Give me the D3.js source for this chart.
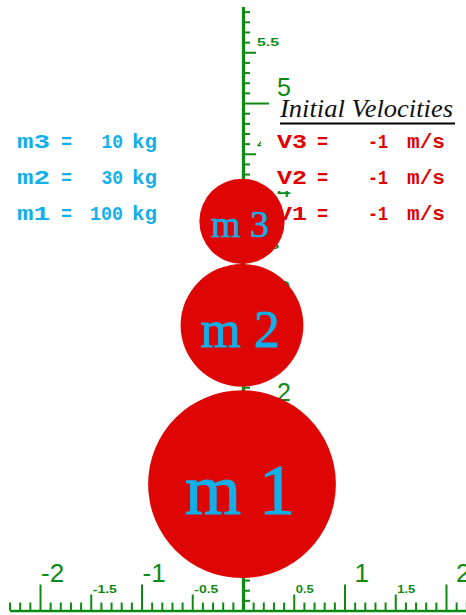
<!DOCTYPE html>
<html>
<head>
<meta charset="utf-8">
<script src="https://cdn.jsdelivr.net/npm/d3@7"></script>
<style>
  html, body { margin: 0; padding: 0; background: #ffffff; }
  svg { display: block; }
</style>
</head>
<body>
<svg id="chart" width="466" height="615"></svg>
<script>
// ---- data ----
const massNames   = ["m 1", "m 2", "m 3"];
const massKeys    = ["m1", "m2", "m3"];
const masses      = [100, 30, 10];
const velocities  = [-1, -1, -1];
const centerX     = [0, 0, 0];
const centerY     = [1.245, 2.81, 3.835];
const radii       = [0.925, 0.605, 0.42];

const xMajorTicks  = [-2, -1, 1, 2];
const xMajorLabels = ["-2", "-1", "1", "2"];
const xHalfTicks   = [-1.5, -0.5, 0.5, 1.5];
const xHalfLabels  = ["-1.5", "-0.5", "0.5", "1.5"];
const yMajorTicks  = [1, 2, 3, 4, 5];
const yMajorLabels = ["1", "2", "3", "4", "5"];
const yHalfTicks   = [0.5, 1.5, 2.5, 3.5, 4.5, 5.5];
const yHalfLabels  = ["0.5", "1.5", "2.5", "3.5", "4.5", "5.5"];

const titleText = "Initial Velocities";

// ---- scales ----
const x = d3.scaleLinear().domain([-2.3, 2.2]).range([9.55, 466.3]);
const y = d3.scaleLinear().domain([0, 5.95]).range([610.5, 6.6]);
const unit = x(1) - x(0);

const GREEN = "#0e8a14";
const RED = "#de0505";
const CYAN = "#12afe9";
const TRED = "#e00000";

const svg = d3.select("#chart");

// minor tick values
const xMinor = d3.range(-23, 23).map(i => i / 10)
  .filter(v => Math.abs(v * 2 - Math.round(v * 2)) > 1e-6);
const yMinor = d3.range(1, 60).map(i => i / 10)
  .filter(v => Math.abs(v * 2 - Math.round(v * 2)) > 1e-6);

function styleAxis(g, domainWidth) {
  g.selectAll(".tick line").attr("stroke", GREEN).attr("stroke-width", 2);
  g.selectAll(".tick text").remove();
  g.select(".domain").attr("stroke", GREEN).attr("stroke-width", domainWidth);
}

// horizontal axis
const gx = svg.append("g").attr("transform", `translate(0,${y(0)})`);
gx.append("g").call(d3.axisTop(x).tickValues(xMinor).tickSize(8).tickSizeOuter(0).tickFormat(""))
  .call(g => styleAxis(g, 2.5));
gx.append("g").call(d3.axisTop(x).tickValues(xHalfTicks).tickSize(16).tickSizeOuter(0).tickFormat(""))
  .call(g => { styleAxis(g, 0); g.select(".domain").remove(); });
gx.append("g").call(d3.axisTop(x).tickValues(xMajorTicks).tickSize(26).tickSizeOuter(0).tickFormat(""))
  .call(g => { styleAxis(g, 0); g.select(".domain").remove(); });

// vertical axis
const gy = svg.append("g").attr("transform", `translate(${x(0)},0)`);
gy.append("g").call(d3.axisRight(y).tickValues(yMinor).tickSize(7).tickSizeOuter(0).tickFormat(""))
  .call(g => styleAxis(g, 3.2));
gy.append("g").call(d3.axisRight(y).tickValues(yHalfTicks).tickSize(13).tickSizeOuter(0).tickFormat(""))
  .call(g => { styleAxis(g, 0); g.select(".domain").remove(); });
gy.append("g").call(d3.axisRight(y).tickValues(yMajorTicks).tickSize(26).tickSizeOuter(0).tickFormat(""))
  .call(g => { styleAxis(g, 0); g.select(".domain").remove(); });

// axis labels
const bigFont = "'Liberation Sans', Arial, sans-serif";
svg.append("g").selectAll("text").data(xMajorTicks).join("text")
  .attr("x", (d) => x(d) + (d < 0 ? 1 : 10))
  .attr("y", y(0) - 28.5)
  .attr("font-family", bigFont).attr("font-size", 26)
  .attr("fill", GREEN)
  .text((d, i) => xMajorLabels[i]);

svg.append("g").selectAll("text").data(xHalfTicks).join("text")
  .attr("x", d => x(d) + 2)
  .attr("y", y(0) - 17.5)
  .attr("font-family", bigFont).attr("font-size", 10).attr("font-weight", "bold")
  .attr("textLength", (d, i) => xHalfLabels[i].length * 6)
  .attr("lengthAdjust", "spacingAndGlyphs")
  .attr("fill", GREEN)
  .text((d, i) => xHalfLabels[i]);

svg.append("g").selectAll("text").data(yMajorTicks).join("text")
  .attr("x", x(0) + 34)
  .attr("y", d => y(d) - 7)
  .attr("font-family", bigFont).attr("font-size", 25)
  .attr("fill", GREEN)
  .text((d, i) => yMajorLabels[i]);

svg.append("g").selectAll("text").data(yHalfTicks).join("text")
  .attr("x", x(0) + 14)
  .attr("y", d => y(d) - 6)
  .attr("font-family", bigFont).attr("font-size", 10).attr("font-weight", "bold")
  .attr("textLength", 22)
  .attr("lengthAdjust", "spacingAndGlyphs")
  .attr("fill", GREEN)
  .text((d, i) => yHalfLabels[i]);

// ---- left mass panel ----
const monoFont = "'Liberation Mono', 'DejaVu Sans Mono', monospace";
const rowY = [220, 184, 148]; // baselines for index 0 (m1) .. 2 (m3)
const leftG = svg.append("g").attr("fill", CYAN)
  .attr("font-family", monoFont).attr("font-size", 20).attr("font-weight", "bold");
masses.forEach((m, i) => {
  leftG.append("text").attr("x", 17).attr("y", rowY[i])
    .attr("textLength", 33).attr("lengthAdjust", "spacingAndGlyphs").text(massKeys[i]);
  leftG.append("text").attr("x", 61).attr("y", rowY[i])
    .attr("textLength", 11).attr("lengthAdjust", "spacingAndGlyphs").text("=");
  const s = String(m);
  leftG.append("text").attr("x", 124 - s.length * 11.3).attr("y", rowY[i])
    .attr("textLength", s.length * 11.3 - 1).attr("lengthAdjust", "spacingAndGlyphs").text(s);
  leftG.append("text").attr("x", 132).attr("y", rowY[i])
    .attr("textLength", 25).attr("lengthAdjust", "spacingAndGlyphs").text("kg");
});

// ---- right velocity panel ----
const rightG = svg.append("g");
rightG.append("rect").attr("x", 270).attr("y", 98).attr("width", 196).attr("height", 28).attr("fill", "#fff");
rightG.append("text").attr("x", 280).attr("y", 117)
  .attr("font-family", "'Liberation Serif', 'Times New Roman', serif")
  .attr("font-style", "italic").attr("font-size", 26)
  .attr("textLength", 173).attr("lengthAdjust", "spacingAndGlyphs")
  .attr("fill", "#111").text(titleText);
rightG.append("line").attr("x1", 280).attr("x2", 455).attr("y1", 123.5).attr("y2", 123.5)
  .attr("stroke", "#000").attr("stroke-width", 2);

const boxTop = [197, 162, 127];
velocities.forEach((v, i) => {
  rightG.append("rect").attr("x", 261).attr("y", boxTop[i]).attr("width", 205).attr("height", 29)
    .attr("fill", "#fff");
  const g = rightG.append("g").attr("fill", TRED)
    .attr("font-family", monoFont).attr("font-size", 20).attr("font-weight", "bold");
  g.append("text").attr("x", 277).attr("y", rowY[i])
    .attr("textLength", 30).attr("lengthAdjust", "spacingAndGlyphs").text("V" + (i + 1));
  g.append("text").attr("x", 317).attr("y", rowY[i])
    .attr("textLength", 11).attr("lengthAdjust", "spacingAndGlyphs").text("=");
  const s = String(v);
  g.append("text").attr("x", 388 - s.length * 10).attr("y", rowY[i])
    .attr("textLength", s.length * 10).attr("lengthAdjust", "spacingAndGlyphs").text(s);
  g.append("text").attr("x", 407).attr("y", rowY[i])
    .attr("textLength", 38).attr("lengthAdjust", "spacingAndGlyphs").text("m/s");
});

// ---- masses (circles) ----
const fontSizes = [72, 52, 38];
const bodies = svg.append("g");
masses.forEach((m, i) => {
  const cx = x(centerX[i]) - 1, cy = y(centerY[i]), r = radii[i] * unit;
  bodies.append("circle").attr("cx", cx).attr("cy", cy).attr("r", r).attr("fill", RED);
  bodies.append("text").attr("x", cx - 2).attr("y", cy)
    .attr("dy", "0.42em")
    .attr("text-anchor", "middle")
    .attr("font-family", "'Liberation Serif', 'Times New Roman', serif")
    .attr("font-size", fontSizes[i])
    .attr("stroke", CYAN).attr("stroke-width", fontSizes[i] / 60)
    .attr("fill", CYAN)
    .text(massNames[i]);
});
</script>
</body>
</html>
